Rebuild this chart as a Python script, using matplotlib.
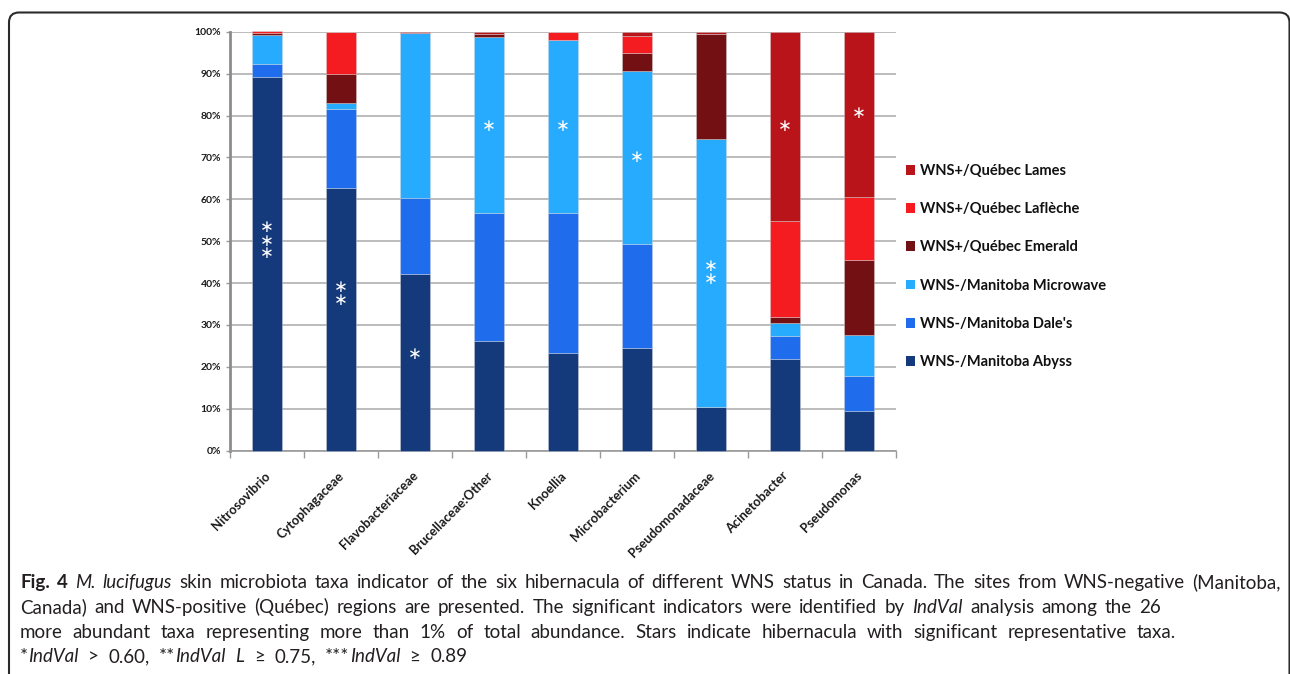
import matplotlib
matplotlib.use("Agg")
import matplotlib.pyplot as plt
from matplotlib.patches import FancyBboxPatch, Patch
from matplotlib.transforms import IdentityTransform
import numpy as np

# ---- data -------------------------------------------------------------
categories = ["Nitrosovibrio", "Cytophagaceae", "Flavobacteriaceae",
              "Brucellaceae:Other", "Knoellia", "Microbacterium",
              "Pseudomonadaceae", "Acinetobacter", "Pseudomonas"]

abyss     = [89.3, 62.8, 42.2, 26.3, 23.4, 24.6, 10.5, 22.0,  9.4]
dales     = [ 3.0, 18.8, 18.2, 30.5, 33.4, 24.7,  0.0,  5.4,  8.5]
microwave = [ 7.0,  1.5, 39.4, 41.9, 41.1, 41.4, 63.8,  3.1,  9.8]
emerald   = [ 0.3,  6.7,  0.0,  0.8,  0.0,  4.3, 25.2,  1.5, 17.9]
lafleche  = [ 0.5, 10.1,  0.0,  0.0,  2.1,  4.0,  0.0, 22.9, 15.0]
lames     = [ 0.0,  0.1,  0.2,  0.5,  0.0,  1.0,  0.5, 45.1, 39.4]

series_labels = ["WNS-/Manitoba Abyss", "WNS-/Manitoba Dale's",
                 "WNS-/Manitoba Microwave", "WNS+/Québec Emerald",
                 "WNS+/Québec Laflèche", "WNS+/Québec Lames"]
series_colors = ["#143a7b", "#1f6ded", "#27abfe", "#721013", "#f41b21", "#b8141a"]

# heights (in %) of the significance stars drawn on each bar
star_levels = [[53.4, 50.1, 47.1], [39.0, 36.0], [23.1], [77.5], [77.6],
               [70.0], [44.1, 41.0], [77.5], [80.5]]

y_ticks = [0, 10, 20, 30, 40, 50, 60, 70, 80, 90, 100]

# ---- figure -----------------------------------------------------------
W, H = 1290, 674
fig = plt.figure(figsize=(W / 100, H / 100), dpi=100)
fig.patch.set_facecolor("white")

chart_font = ["Lato", "DejaVu Sans"]
ax = fig.add_axes([229.7 / W, (H - 450.7) / H, 666 / W, 419 / H])

series = [abyss, dales, microwave, emerald, lafleche, lames]
x = np.arange(len(categories))
bottom = np.zeros(len(categories))
handles = []
for vals, lab, col in zip(series, series_labels, series_colors):
    vals = np.asarray(vals)
    ax.bar(x, vals, width=0.405, bottom=bottom, color=col,
           edgecolor=(0.85, 0.85, 0.85, 0.55), linewidth=0.5, zorder=3,
           clip_on=False)
    bottom += vals
    handles.append(Patch(facecolor=col, edgecolor="none", label=lab))

ax.set_xlim(-0.5, len(categories) - 0.5)
ax.set_ylim(0, 100)

# horizontal grid
ax.set_yticks(y_ticks)
ax.set_yticklabels([f"{v}%" for v in y_ticks], fontsize=7.5,
                   fontweight="bold", family=chart_font, color="#1a1a1a")
ax.yaxis.grid(True, color="#b0b0b0", linewidth=1.2, zorder=0)
ax.set_axisbelow(True)
ax.tick_params(axis="y", length=3, width=1, color="#9a9a9a", pad=3)

# category boundaries as x ticks, labels drawn separately
ax.set_xticks(np.arange(-0.5, len(categories), 1.0))
ax.set_xticklabels([])
ax.tick_params(axis="x", length=5, width=1, color="#9a9a9a")

for s in ("top", "right"):
    ax.spines[s].set_visible(False)
ax.spines["left"].set_color("#8c8c8c")
ax.spines["left"].set_linewidth(2.0)
ax.spines["bottom"].set_color("#9a9a9a")
ax.spines["bottom"].set_linewidth(1.2)

for i, name in enumerate(categories):
    ax.annotate(name, xy=(i, 0), xycoords="data", xytext=(1, -16.5),
                textcoords="offset points", rotation=45,
                rotation_mode="anchor", ha="right", va="center",
                fontsize=9.3, fontweight="bold", family=chart_font,
                color="#1a1a1a", annotation_clip=False)

# significance stars
for i, levels in enumerate(star_levels):
    for lev in levels:
        ax.text(i, lev, "\u2217", color="white", fontsize=12,
                ha="center", va="center", family="DejaVu Sans", zorder=5)

# legend (top entry = last series)
leg = fig.legend(handles[::-1], series_labels[::-1], loc="center left",
                 bbox_to_anchor=(906 / W, 1 - 266.5 / H),
                 frameon=False, borderpad=0, borderaxespad=0,
                 handlelength=0.65, handleheight=0.65, handletextpad=0.3,
                 labelspacing=1.66,
                 prop=dict(family=chart_font, weight="bold", size=10.5))
for t in leg.get_texts():
    t.set_color("#111111")

# ---- caption ------------------------------------------------------------
renderer = fig.canvas.get_renderer()
cap_font = ["Lato", "DejaVu Sans"]
cap_size = 13.5
cap_color = "#231f20"
cap_styles = {"r": {}, "b": {"fontweight": "bold"}, "i": {"fontstyle": "italic"}}


def make_text(s, st):
    return fig.text(0, 0, s, fontsize=cap_size, family=cap_font,
                    color=cap_color, ha="left", va="baseline",
                    transform=IdentityTransform(), **cap_styles[st])


def plain(s, st="r"):
    return [[(w, st)] for w in s.split()]


def caption_line(words, baseline, x0, x1):
    """Lay out words from x0 to x1, spreading the spare room between them."""
    items, total = [], 0.0
    for word in words:
        runs, ww = [], 0.0
        for s, st in word:
            t = make_text(s, st)
            wd = t.get_window_extent(renderer).width
            runs.append((t, wd))
            ww += wd
        items.append((runs, ww))
        total += ww
    gap = (x1 - x0 - total) / (len(items) - 1)
    xpos = x0
    for runs, ww in items:
        for t, wd in runs:
            t.set_position((xpos, H - baseline))
            xpos += wd
        xpos += gap


line1 = ([[("Fig.", "b")], [("4", "b")], [("M.", "i")], [("lucifugus", "i")]]
         + plain("skin microbiota taxa indicator of the six hibernacula of "
                 "different WNS status in Canada. The sites from WNS-negative "
                 "(Manitoba,"))
line2 = (plain("Canada) and WNS-positive (Québec) regions are presented. The "
               "significant indicators were identified by")
         + [[("IndVal", "i")]] + plain("analysis among the 26"))
line3 = plain("more abundant taxa representing more than 1% of total abundance. "
              "Stars indicate hibernacula with significant representative taxa.")
line4 = [[("*", "r"), ("IndVal", "i")], [(">", "r")], [("0.60,", "r")],
         [("**", "r"), ("IndVal", "i")], [("L", "i")], [("\u2265", "r")],
         [("0.75,", "r")], [("***", "r"), ("IndVal", "i")], [("\u2265", "r")],
         [("0.89", "r")]]

caption_line(line1, 588, 20, 1281)
caption_line(line2, 613, 20, 1161)
caption_line(line3, 638, 20, 1176)
caption_line(line4, 662, 20, 467)

# rounded figure frame (open at the bottom edge)
frame = FancyBboxPatch((9, -30), 1280.5, H - 12.5 + 30,
                       boxstyle="round,pad=0,rounding_size=10",
                       transform=IdentityTransform(), fill=False,
                       edgecolor="#2b2b2b", linewidth=1.5)
fig.add_artist(frame)

fig.savefig("out.png", dpi=100, facecolor="white")
